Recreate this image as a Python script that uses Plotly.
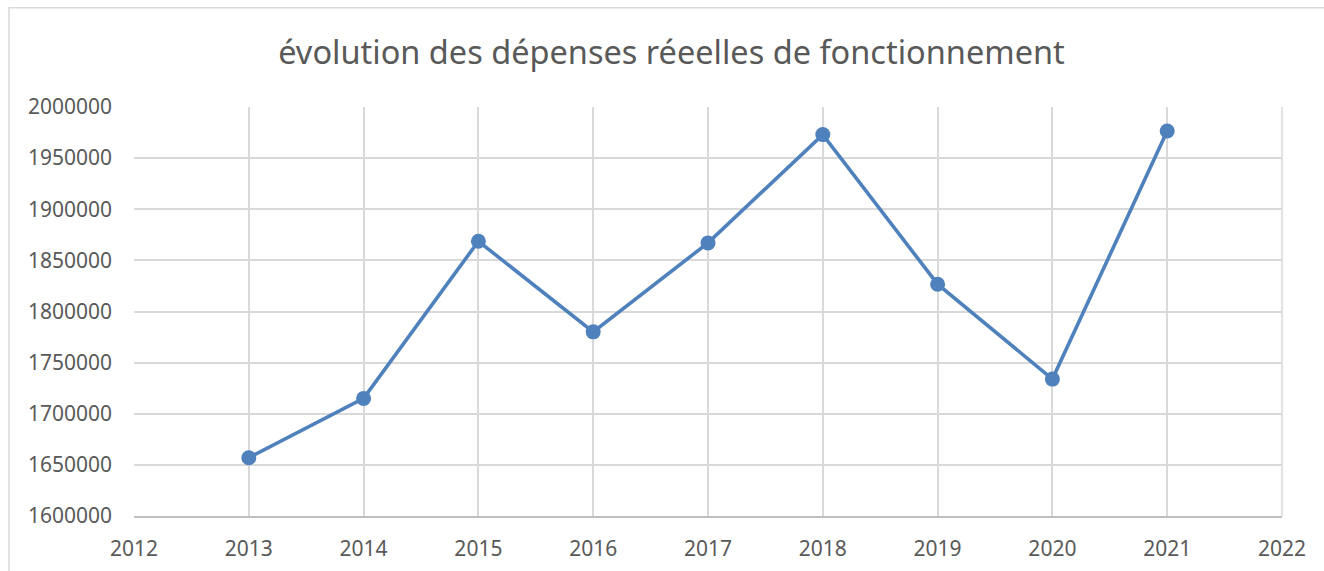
import plotly.graph_objects as go

years = [2013, 2014, 2015, 2016, 2017, 2018, 2019, 2020, 2021]
depenses = [1657000, 1715000, 1868700, 1780100, 1867100, 1973000, 1826700, 1733900, 1976500]
title_text = "évolution des dépenses réeelles de fonctionnement"

W, H = 1324, 571
L, R, T, B = 134, 1281.7, 106.7, 516
pw, ph = R - L, B - T

def px_to_paper_x(x):
    return (x - L) / pw

def px_to_paper_y(y):
    return (B - y) / ph

fig = go.Figure()
fig.add_trace(go.Scatter(
    x=years, y=depenses, mode="lines+markers",
    line=dict(color="#4F81BD", width=3.6),
    marker=dict(color="#4F81BD", size=15),
    showlegend=False, hoverinfo="x+y",
))

font_family = "Noto Sans, Open Sans, DejaVu Sans, sans-serif"
fig.update_layout(
    width=W, height=H,
    margin=dict(l=L, r=W - R, t=T, b=H - B, autoexpand=False),
    paper_bgcolor="white", plot_bgcolor="white",
    font=dict(family=font_family, color="#595959", size=21),
    title=dict(text=title_text, x=671.5 / W, xref="container", xanchor="center",
               y=1 - 53 / H, yref="container", yanchor="middle",
               font=dict(size=32.5, color="#595959", family=font_family)),
    xaxis=dict(range=[2012, 2022], dtick=1, tick0=2012, showgrid=True,
               gridcolor="#D9D9D9", gridwidth=1.5, zeroline=False,
               showline=True, linecolor="#BFBFBF", linewidth=1.5,
               ticks="", ticklabelstandoff=13, tickfont=dict(size=21, color="#595959")),
    yaxis=dict(range=[1600000, 2000000], dtick=50000, tick0=1600000, showgrid=True,
               gridcolor="#D9D9D9", gridwidth=1.5, zeroline=False,
               showline=False, ticks="", ticklabelstandoff=21,
               tickformat="d", tickfont=dict(size=21, color="#595959")),
    shapes=[dict(type="rect", xref="paper", yref="paper",
                 x0=px_to_paper_x(9), x1=px_to_paper_x(1400),
                 y0=px_to_paper_y(640), y1=px_to_paper_y(7.5),
                 line=dict(color="#D9D9D9", width=1.5), fillcolor="rgba(0,0,0,0)",
                 layer="below")],
)
fig.add_shape(type="line", xref="paper", yref="paper", x0=1, x1=1, y0=0, y1=1,
              line=dict(color="#D9D9D9", width=1.5))

fig.write_html("out.html", config={"displayModeBar": False},
               post_script="document.body.style.margin='0px';document.body.style.overflow='hidden';")
